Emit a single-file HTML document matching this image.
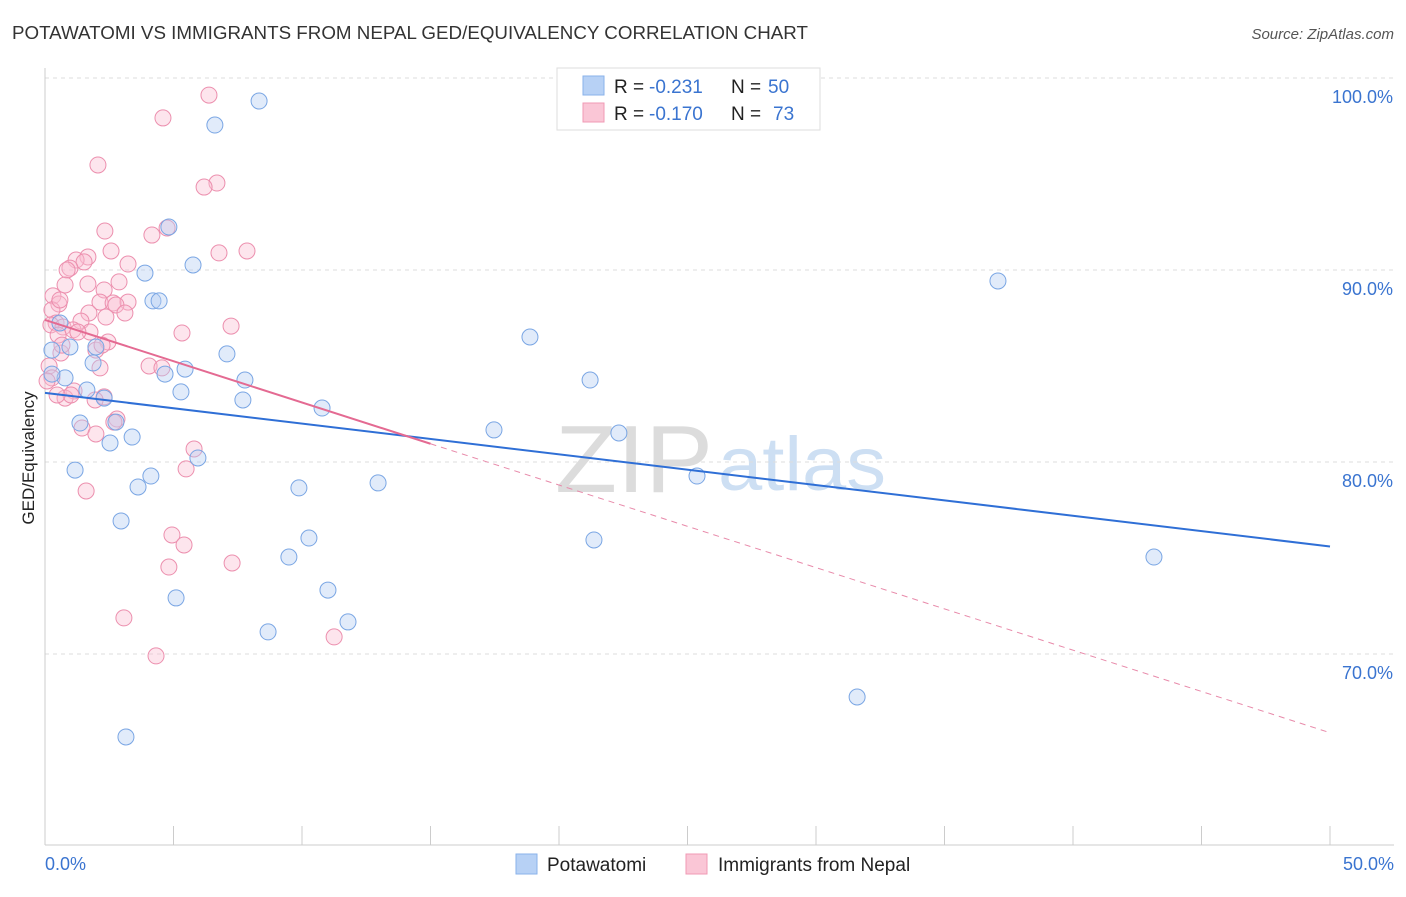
<!DOCTYPE html>
<html><head><meta charset="utf-8"><style>
body{margin:0;background:#fff;font-family:"Liberation Sans",sans-serif;}
svg text{font-family:"Liberation Sans",sans-serif;}
</style></head><body>
<svg id="chart" width="1406" height="892" xmlns="http://www.w3.org/2000/svg">
<text x="12" y="39" font-size="18" fill="#333" textLength="796" lengthAdjust="spacingAndGlyphs">POTAWATOMI VS IMMIGRANTS FROM NEPAL GED/EQUIVALENCY CORRELATION CHART</text>
<text x="1394" y="39" font-size="15" fill="#555" font-style="italic" text-anchor="end">Source: ZipAtlas.com</text>
<g><text x="555" y="492" font-size="96" fill="#dcdcdc" font-family="Liberation Serif" textLength="158" lengthAdjust="spacingAndGlyphs">ZIP</text><text x="718" y="490" font-size="76" fill="#cddff3" textLength="168" lengthAdjust="spacingAndGlyphs">atlas</text></g>
<g id="grid"></g><g id="axes"></g><g id="pts"></g><g id="lines"></g>
<text transform="translate(34,458) rotate(-90)" font-size="17" fill="#222" text-anchor="middle">GED/Equivalency</text>
<g>
<rect x="557" y="68" width="263" height="62" fill="#fff" stroke="#ddd"/>
<rect x="583" y="76" width="21" height="19" fill="#b7d1f5" stroke="#8ab2ea"/>
<rect x="583" y="103" width="21" height="19" fill="#fac6d6" stroke="#f09ab4"/>
<text x="614" y="93" font-size="19" fill="#222">R =</text>
<text x="649" y="93" font-size="19" fill="#3a74d0">-0.231</text>
<text x="731" y="93" font-size="19" fill="#222">N =</text>
<text x="768" y="93" font-size="19" fill="#3a74d0">50</text>
<text x="614" y="120" font-size="19" fill="#222">R =</text>
<text x="649" y="120" font-size="19" fill="#3a74d0">-0.170</text>
<text x="731" y="120" font-size="19" fill="#222">N =</text>
<text x="773" y="120" font-size="19" fill="#3a74d0">73</text>
</g>
<g>
<rect x="516" y="854" width="21" height="20" fill="#b7d1f5" stroke="#8ab2ea"/>
<text x="547" y="871" font-size="19" fill="#222">Potawatomi</text>
<rect x="686" y="854" width="21" height="20" fill="#fac6d6" stroke="#f09ab4"/>
<text x="718" y="871" font-size="19" fill="#222">Immigrants from Nepal</text>
</g>
</svg>
<script>
const NS="http://www.w3.org/2000/svg";
const yTicks=[100,90,80,70];
const xTickLabels=["0.0%","50.0%"];
const bluePx=[[259,101],[215,125],[169,227],[193,265],[145,273],[153,301],[159,301],[998,281],[530,337],[227,354],[60,323],[70,347],[96,347],[52,350],[93,363],[185,369],[165,374],[245,380],[590,380],[65,378],[52,374],[87,390],[181,392],[243,400],[104,398],[322,408],[494,430],[619,433],[80,423],[116,422],[132,437],[110,443],[198,458],[75,470],[151,476],[697,476],[138,487],[378,483],[299,488],[121,521],[594,540],[309,538],[289,557],[1154,557],[328,590],[176,598],[348,622],[268,632],[857,697],[126,737]];
const pinkPx=[[209,95],[163,118],[98,165],[217,183],[204,187],[167,228],[152,235],[105,231],[111,251],[247,251],[219,253],[88,257],[76,260],[84,262],[128,264],[70,268],[67,270],[88,284],[119,282],[65,285],[53,296],[104,290],[59,304],[100,302],[113,303],[128,302],[116,305],[52,310],[89,313],[125,313],[106,317],[81,321],[56,323],[51,325],[63,327],[73,330],[90,332],[231,326],[182,333],[58,335],[108,342],[96,350],[61,353],[100,368],[149,366],[162,368],[49,366],[52,378],[47,381],[74,391],[104,397],[65,398],[95,400],[117,419],[82,428],[96,434],[194,449],[186,469],[86,491],[172,535],[184,545],[169,567],[232,563],[124,618],[334,637],[156,656],[114,422],[71,395],[57,395],[78,332],[102,345],[60,300],[62,345]];
const blueX=bluePx.map(p=>+((p[0]-45)/1285*50).toFixed(2));
const blueY=bluePx.map(p=>+(100-(p[1]-78)/19.2).toFixed(2));
const pinkX=pinkPx.map(p=>+((p[0]-45)/1285*50).toFixed(2));
const pinkY=pinkPx.map(p=>+(100-(p[1]-78)/19.2).toFixed(2));
const blueTrend=[83.6,75.6];
const pinkTrend=[87.4,65.9];
const pinkSolidEnd=15;
const X=v=>45+v/50*1285, Y=v=>78+(100-v)*19.2;
function mk(t,a,parent){const e=document.createElementNS(NS,t);for(const k in a)e.setAttribute(k,a[k]);document.getElementById(parent).appendChild(e);return e;}
yTicks.forEach(t=>{
 const l=mk("line",{x1:45,x2:1394,y1:Y(t),y2:Y(t),stroke:"#ddd","stroke-dasharray":"4,4"},"grid");
 
 
 const tx=mk("text",{x:1393,y:Y(t)+25,"font-size":18,fill:"#3a74d0","text-anchor":"end"},"grid");
 tx.textContent=t.toFixed(1)+"%";
 
 
});
const ax=mk("line",{x1:45,x2:45,y1:68,y2:845,stroke:"#ccc"},"axes");


const bx=mk("line",{x1:45,x2:1394,y1:845,y2:845,stroke:"#ccc"},"axes");


for(let i=0;i<=10;i++){const t=mk("line",{x1:X(i*5),x2:X(i*5),y1:826,y2:845,stroke:"#ccc"},"axes");
 
 }
[[0,"start",45],[50,"end",1394]].forEach((d,i)=>{const t=mk("text",{x:d[2],y:870,"font-size":18,fill:"#3a74d0","text-anchor":d[1]},"axes");t.textContent=xTickLabels[i];
 
 });
function pts(xs,ys,fill,stroke,name){xs.forEach((x,i)=>{const c=mk("circle",{cx:X(x),cy:Y(ys[i]),r:8,fill:fill,stroke:stroke,"stroke-width":1,"fill-opacity":0.4},"pts");
 
 });}
pts(pinkX,pinkY,"#f9bfd2","#ec8fae","nepal-point");
pts(blueX,blueY,"#b3cdf2","#7aa6e4","potawatomi-point");
const bl=mk("line",{x1:X(0),y1:Y(blueTrend[0]),x2:X(50),y2:Y(blueTrend[1]),stroke:"#2f6fd6","stroke-width":2},"lines");


const py=x=>pinkTrend[0]+(pinkTrend[1]-pinkTrend[0])*x/50;
const ps=mk("line",{x1:X(0),y1:Y(py(0)),x2:X(pinkSolidEnd),y2:Y(py(pinkSolidEnd)),stroke:"#e46a92","stroke-width":2},"lines");


const pd=mk("line",{x1:X(pinkSolidEnd),y1:Y(py(pinkSolidEnd)),x2:X(50),y2:Y(py(50)),stroke:"#e88aaa","stroke-width":1,"stroke-dasharray":"6,5"},"lines");


</script>
</body></html>
